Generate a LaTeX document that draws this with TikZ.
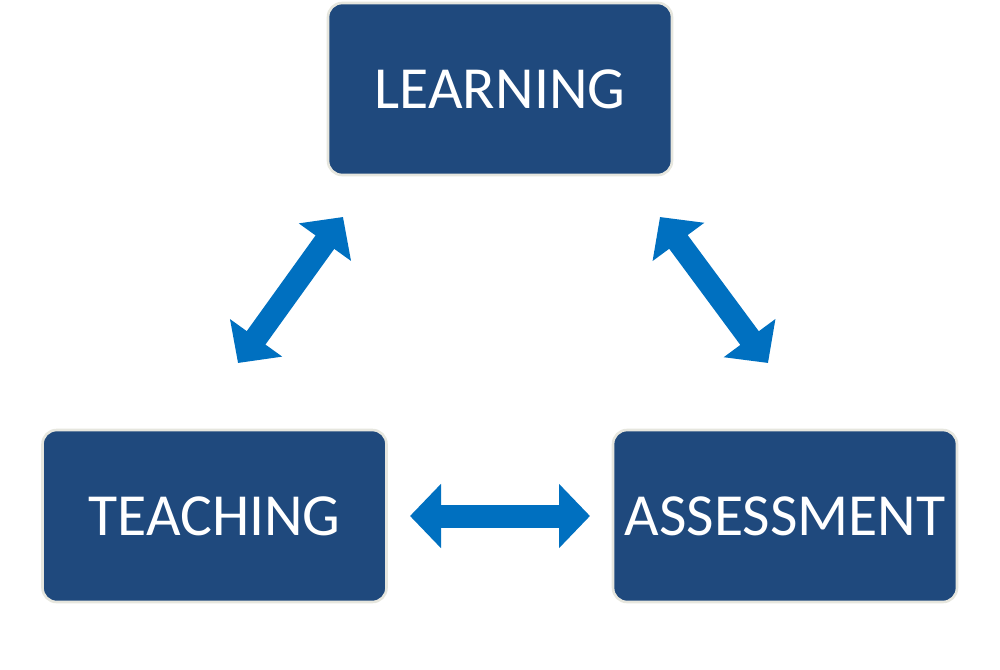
\documentclass[tikz,border=0pt]{standalone}
\usepackage{fontspec}
\setmainfont{Carlito}
\usetikzlibrary{arrows.meta}
\definecolor{boxblue}{RGB}{31,73,125}
\definecolor{arrowblue}{RGB}{0,112,192}
\definecolor{boxrim}{RGB}{230,230,222}
\tikzset{
  topic/.style={draw=boxrim, line width=1.5pt, fill=boxblue, rounded corners=8pt,
    minimum width=6.88cm, minimum height=3.44cm, text=white, font=\fontsize{34}{40}\selectfont},
  link/.style={arrowblue, line width=0.46cm,
    {Triangle[width=1.25cm,length=0.62cm]}-{Triangle[width=1.25cm,length=0.62cm]}}
}
\begin{document}
\begin{tikzpicture}[x=0.02cm,y=-0.02cm]
    \useasboundingbox (0,0) rectangle (1000,669);

    % draw boxes
    \node[topic] (learning) at (500,89) {LEARNING};
    \node[topic] (teaching) at (214.5,516) {TEACHING};
    \node[topic] (assessment) at (785,516) {ASSESSMENT};

    % arrow ends
    \coordinate (lt) at (343,217);
    \coordinate (tl) at (238,363);
    \coordinate (la) at (660,217);
    \coordinate (al) at (768,363);
    \coordinate (ta) at (410,516);
    \coordinate (at) at (590,516);

    % draw arrows
    \draw[link] (tl) -- (lt);
    \draw[link] (la) -- (al);
    \draw[link] (ta) -- (at);
\end{tikzpicture}
\end{document}
